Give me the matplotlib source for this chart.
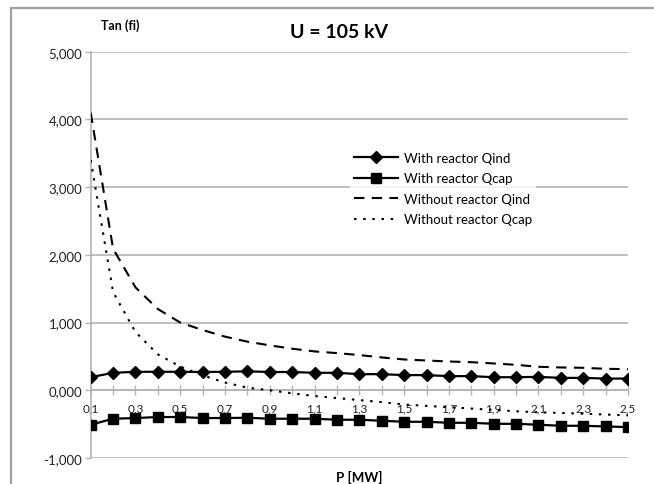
import matplotlib.pyplot as plt
from matplotlib.patches import Rectangle
from matplotlib.ticker import FuncFormatter

plt.rcParams['font.family'] = ['Lato', 'DejaVu Sans']

p_mw = [0.1, 0.2, 0.3, 0.4, 0.5, 0.6, 0.7, 0.8, 0.9, 1.0, 1.1, 1.2, 1.3,
        1.4, 1.5, 1.6, 1.7, 1.8, 1.9, 2.0, 2.1, 2.2, 2.3, 2.4, 2.5]
with_qind = [193, 258, 273, 273, 273, 270, 273, 280, 270, 270, 258, 258, 238,
             238, 224, 224, 209, 209, 193, 193, 198, 183, 183, 173, 173]
with_qcap = [-509, -420, -410, -395, -395, -410, -410, -405, -420, -420, -420,
             -435, -435, -450, -465, -465, -480, -480, -495, -495, -509, -524,
             -524, -534, -544]
without_qind = [4100, 2090, 1520, 1200, 1000, 890, 792, 718, 663, 614, 574, 549,
                520, 485, 455, 440, 425, 415, 396, 376, 347, 337, 332, 317, 312]
without_qcap = [3400, 1450, 860, 530, 350, 220, 115, 38, 0, -45, -85, -115,
                -145, -175, -210, -230, -250, -270, -290, -310, -325, -335,
                -345, -358, -370]
x_labels = ["0,1", "0,3", "0,5", "0,7", "0,9", "1,1", "1,3",
            "1,5", "1,7", "1,9", "2,1", "2,3", "2,5"]

W, H = 654, 485
fig = plt.figure(figsize=(W / 100, H / 100), dpi=100)
ax = fig.add_axes([90.7 / W, 1 - 459 / H, (628 - 90.7) / W, (459 - 52.7) / H])

grid_c = "#b4b4b4"
# outer chart border (cut at right and bottom)
fig.patches.append(Rectangle((11 / W, -0.2), 1.2, 1.2 - 9 / H, transform=fig.transFigure,
                             fill=False, edgecolor="#a0a0a0", lw=1.6))

idx = list(range(len(p_mw)))
ax.plot(idx, with_qind, color="black", lw=1.6, marker="D", ms=6.5, label="With reactor Qind", zorder=4)
ax.plot(idx, with_qcap, color="black", lw=1.6, marker="s", ms=7.5, label="With reactor Qcap", zorder=4)
ax.plot(idx, without_qind, color="black", lw=1.5, ls=(0, (5, 3.5)), label="Without reactor Qind", zorder=3)
ax.plot(idx, without_qcap, color="black", lw=1.5, ls=(0, (1.2, 3.2)), label="Without reactor Qcap", zorder=3)

ax.set_xlim(0, len(p_mw) - 1)
ax.set_ylim(-1000, 5000)
ax.set_yticks(range(-1000, 5001, 1000))
ax.yaxis.set_major_formatter(FuncFormatter(lambda v, _: f"{v / 1000:.3f}".replace(".", ",")))
ax.yaxis.grid(True, color=grid_c, lw=1.2)
ax.set_axisbelow(True)

ax.set_xticks(idx)
ax.set_xticklabels([x_labels[i // 2] if i % 2 == 0 else "" for i in idx])
ax.spines["bottom"].set_position(("data", 0))
for s in ["top", "right"]:
    ax.spines[s].set_visible(False)
for s in ["left", "bottom"]:
    ax.spines[s].set_color(grid_c)
    ax.spines[s].set_linewidth(1.2)
ax.tick_params(axis="x", direction="inout", length=7, width=1, color=grid_c,
               labelsize=8.5, pad=5, labelcolor="#222222")
ax.tick_params(axis="y", direction="out", length=4, width=1, color=grid_c,
               labelsize=9.5, pad=2, labelcolor="#222222")

fig.text(339 / W, 1 - 33 / H, "U = 105 kV", ha="center", va="center", fontsize=14, fontweight="bold")
fig.text(120 / W, 1 - 26 / H, "Tan (fi)", ha="center", va="center", fontsize=9, fontweight="bold")
fig.text(359 / W, 1 - 477 / H, "P [MW]", ha="center", va="center", fontsize=9.5, fontweight="bold")

leg = fig.legend(loc="upper left", bbox_to_anchor=(343 / W, 1 - 142 / H), fontsize=9.5,
                 handlelength=3.4, labelspacing=0.65, handletextpad=0.4,
                 borderpad=0.3, fancybox=False)
leg.get_frame().set_facecolor("white")
leg.get_frame().set_edgecolor("none")

fig.savefig("out.png", dpi=100)
